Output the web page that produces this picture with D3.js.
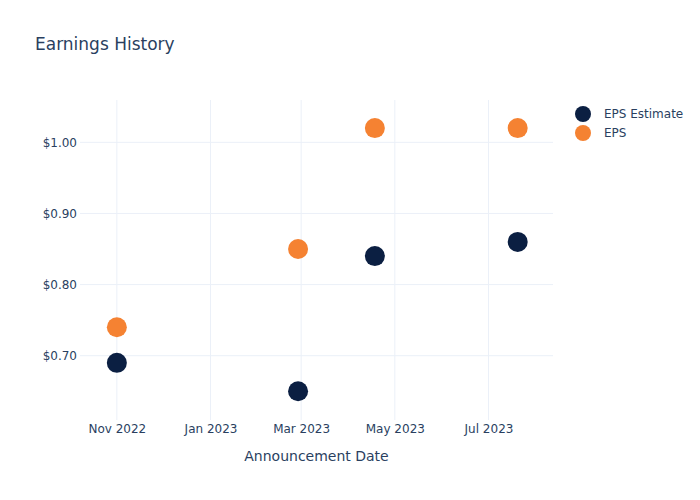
<!DOCTYPE html>
<html>
<head>
<meta charset="utf-8">
<script src="https://cdn.jsdelivr.net/npm/d3@7"></script>
<style>
    body { margin: 0; background: #fff; }
    svg { font-family: "DejaVu Sans", Verdana, sans-serif; }
</style>
</head>
<body>
<script>

// announcement dates and values
var dates = ["2022-11-01", "2023-02-27", "2023-04-18", "2023-07-20"];
var epsEstimate = [0.69, 0.65, 0.84, 0.86];
var epsActual = [0.74, 0.85, 1.02, 1.02];
var seriesNames = ["EPS Estimate", "EPS"];
var seriesColors = ["#0b1f42", "#f58232"];
var yTicks = [0.70, 0.80, 0.90, 1.00];

var width = 700, height = 500;
var margin = {top: 100, right: 147, bottom: 80, left: 80};
var plotW = width - margin.left - margin.right;
var plotH = height - margin.top - margin.bottom;
var textColor = "#2a3f5f";
var gridColor = "#ebf0f8";

var parse = d3.utcParse("%Y-%m-%d");

var series = [epsEstimate, epsActual].map(function (vals, s) {
    return {
        name: seriesNames[s],
        color: seriesColors[s],
        points: vals.map(function (v, i) { return {date: parse(dates[i]), value: v}; })
    };
});

var x = d3.scaleUtc()
    .domain([parse("2022-10-08"), parse("2023-08-12")])
    .range([0, plotW]);

var y = d3.scaleLinear()
    .domain([0.6096, 1.0595])
    .range([plotH, 0]);

var svg = d3.select("body").append("svg")
    .attr("width", width)
    .attr("height", height);

svg.append("text")
    .attr("x", 35)
    .attr("y", 50)
    .attr("fill", textColor)
    .style("font-size", "17px")
    .text("Earnings History");

var g = svg.append("g")
    .attr("transform", "translate(" + margin.left + "," + margin.top + ")");

// grid
var xTicks = x.ticks(d3.utcMonth.every(2));

g.selectAll(".xgrid")
    .data(xTicks)
    .enter().append("line")
    .attr("class", "xgrid")
    .attr("x1", function (d) { return x(d); })
    .attr("x2", function (d) { return x(d); })
    .attr("y1", 0)
    .attr("y2", plotH)
    .attr("stroke", gridColor);

g.selectAll(".ygrid")
    .data(yTicks)
    .enter().append("line")
    .attr("class", "ygrid")
    .attr("x1", 0)
    .attr("x2", plotW)
    .attr("y1", function (d) { return y(d); })
    .attr("y2", function (d) { return y(d); })
    .attr("stroke", gridColor);

// axes
var xAxis = g.append("g")
    .attr("transform", "translate(0," + plotH + ")")
    .call(d3.axisBottom(x).tickValues(xTicks).tickFormat(d3.utcFormat("%b %Y")).tickSize(0).tickPadding(4));

var yAxis = g.append("g")
    .call(d3.axisLeft(y).tickValues(yTicks).tickFormat(d3.format("$.2f")).tickSize(0).tickPadding(3));

[xAxis, yAxis].forEach(function (a) {
    a.select(".domain").remove();
    a.selectAll("text")
        .attr("fill", textColor)
        .style("font-size", "12px")
        .style("font-family", "\"DejaVu Sans\", Verdana, sans-serif");
});

svg.append("text")
    .attr("x", margin.left + plotW / 2)
    .attr("y", 461)
    .attr("text-anchor", "middle")
    .attr("fill", textColor)
    .style("font-size", "14px")
    .text("Announcement Date");

// markers
var groups = g.selectAll(".series")
    .data(series)
    .enter().append("g")
    .attr("class", "series")
    .attr("fill", function (d) { return d.color; });

groups.selectAll("circle")
    .data(function (d) { return d.points; })
    .enter().append("circle")
    .attr("cx", function (d) { return x(d.date); })
    .attr("cy", function (d) { return y(d.value); })
    .attr("r", 10);

// legend
var legend = svg.selectAll(".legend")
    .data(series)
    .enter().append("g")
    .attr("class", "legend")
    .attr("transform", function (d, i) { return "translate(583," + (114 + i * 19) + ")"; });

legend.append("circle")
    .attr("r", 8)
    .attr("fill", function (d) { return d.color; });

legend.append("text")
    .attr("x", 21)
    .attr("dy", "0.35em")
    .attr("fill", textColor)
    .style("font-size", "12px")
    .text(function (d) { return d.name; });

</script>
</body>
</html>
